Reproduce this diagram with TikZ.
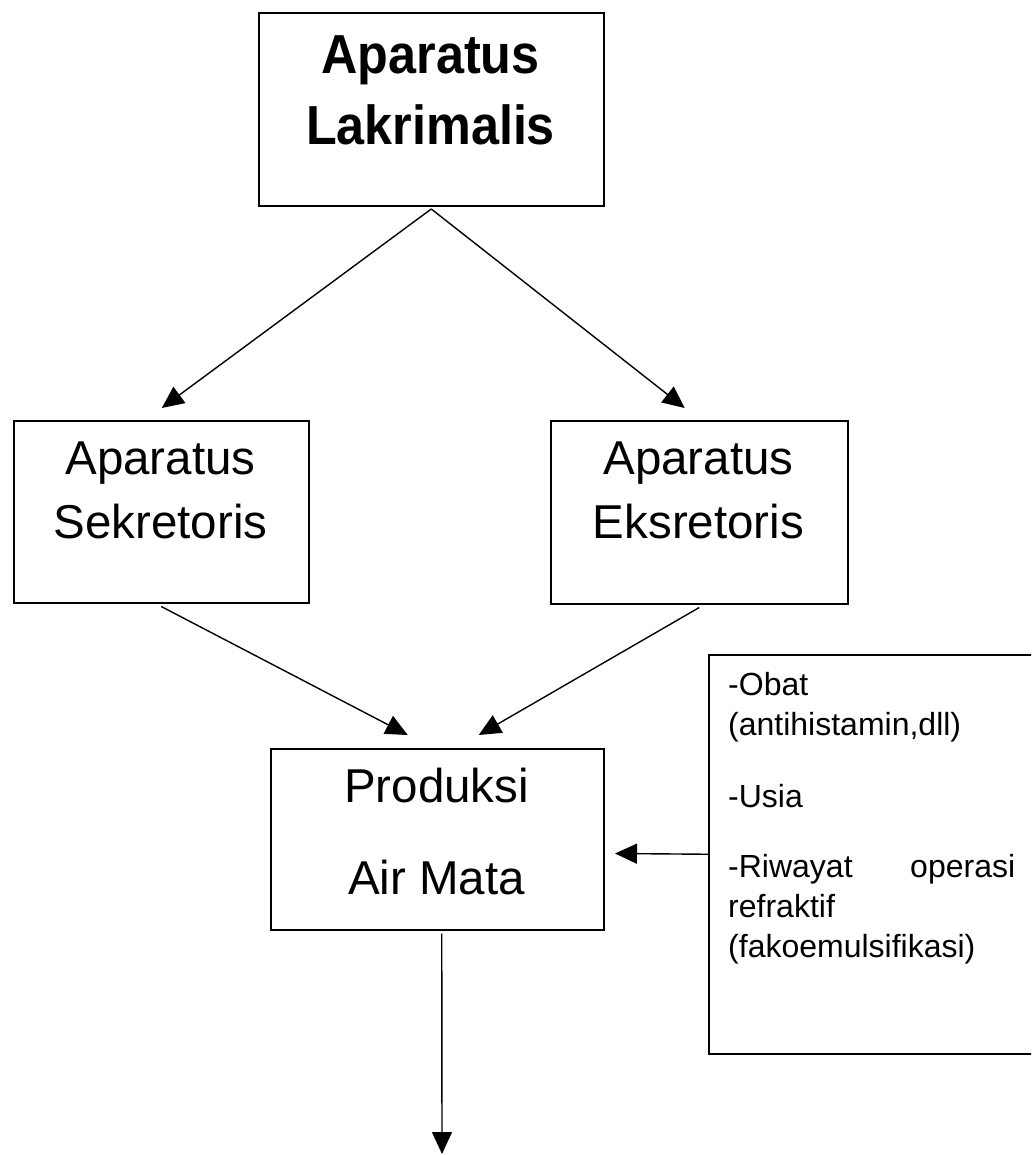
\documentclass[tikz,border=0pt]{standalone}
\usepackage{fontspec}
\setmainfont{Liberation Sans}
\newfontfamily\topfont[FakeStretch=0.915]{Liberation Sans}
\usetikzlibrary{arrows.meta}
\begin{document}
\begin{tikzpicture}[x=1pt,y=-1pt,
  box/.style={draw=black,line width=1.5pt,rectangle,inner sep=0pt,anchor=north west},
  bigtxt/.style={anchor=base,inner sep=0pt,font=\topfont\fontsize{55}{66}\selectfont\bfseries},
  midtxt/.style={anchor=base,inner sep=0pt,font=\fontsize{47.5}{57}\selectfont},
  smalltxt/.style={anchor=base west,inner sep=0pt,font=\fontsize{32}{38}\selectfont},
  arr/.style={line width=1.4pt,-{Triangle[length=22pt,width=20pt]}}]
\useasboundingbox (0,0) rectangle (1031,1155);
\clip (0,0) rectangle (1031,1155);
\fill[white] (0,0) rectangle (1031,1155);
% boxes
\node[box,minimum width=345pt,minimum height=193pt] (top) at (258,12.5) {};
\node[box,minimum width=295pt,minimum height=182pt] (sek) at (13,420) {};
\node[box,minimum width=297pt,minimum height=183pt] (eks) at (550,420) {};
\node[box,minimum width=333pt,minimum height=181pt] (prod) at (270,748) {};
\node[box,minimum width=345pt,minimum height=399pt] (fak) at (708,654) {};
% texts
\node[bigtxt] (t1) at (430.5,74) {Aparatus};
\node[bigtxt] (t2) at (430.5,145) {Lakrimalis};
\node[midtxt] (s1) at (160.5,474) {Aparatus};
\node[midtxt] (s2) at (160.5,538) {Sekretoris};
\node[midtxt] (e1) at (698.5,474) {Aparatus};
\node[midtxt] (e2) at (698.5,538) {Eksretoris};
\node[midtxt] (p1) at (436.5,802) {Produksi};
\node[midtxt] (p2) at (436.5,894) {Air Mata};
\node[smalltxt] (f1) at (728,695) {-Obat};
\node[smalltxt] (f2) at (728,735) {(antihistamin,dll)};
\node[smalltxt] (f3) at (728,807) {-Usia};
\node[smalltxt,text width=287pt] (f4) at (728,877) {-Riwayat\hfill operasi};
\node[smalltxt] (f5) at (728,917) {refraktif};
\node[smalltxt] (f6) at (728,957) {(fakoemulsifikasi)};
% connector end points
\coordinate (sekin) at ([xshift=0.5pt,yshift=12pt]sek.north);
\coordinate (eksin) at ([xshift=-14.5pt,yshift=12pt]eks.north);
\coordinate (sekout) at ([yshift=-3pt]sek.south);
\coordinate (eksout) at ([yshift=-3pt]eks.south);
\coordinate (prodinL) at ([xshift=-29.5pt,yshift=13pt]prod.north);
\coordinate (prodinR) at ([xshift=41.5pt,yshift=13pt]prod.north);
\coordinate (prodinE) at (615,853.5);
\coordinate (prodout) at ([xshift=4.5pt,yshift=-3pt]prod.south);
\coordinate (final) at (442,1154);
% connectors
\draw[arr] ([yshift=-2pt]top.south) -- (sekin);
\draw[arr] ([yshift=-2pt]top.south) -- (eksin);
\draw[arr] (sekout) -- (prodinL);
\draw[arr] (eksout) -- (prodinR);
\draw[arr] (fak.west) -- (prodinE);
\draw[arr] (prodout) -- (final);
\end{tikzpicture}
\end{document}
